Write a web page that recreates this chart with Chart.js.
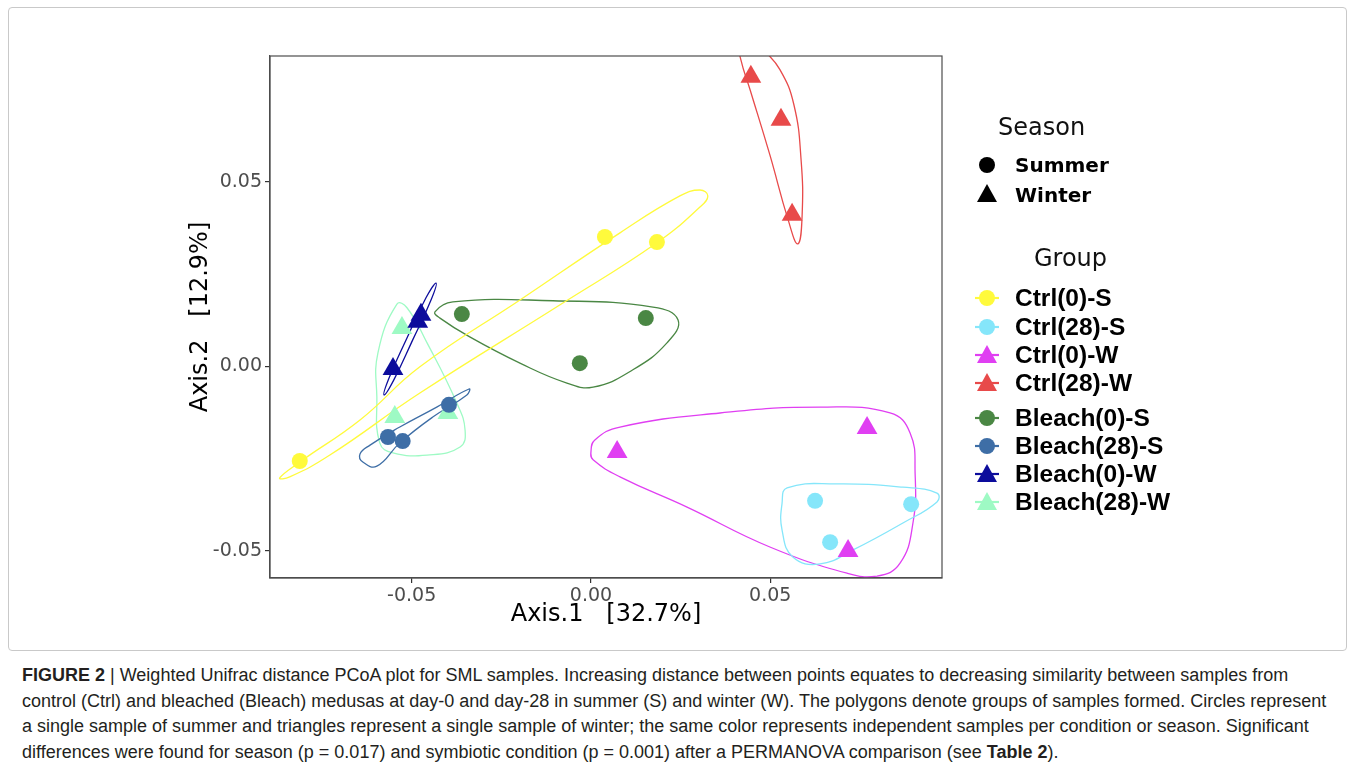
<!DOCTYPE html>
<html>
<head>
<meta charset="utf-8">
<script src="https://cdn.jsdelivr.net/npm/chart.js@4.4.1/dist/chart.umd.min.js"></script>
<style>
  body { margin: 0; background: #fff; width: 1354px; height: 769px; overflow: hidden; position: relative; }
  #frame { position: absolute; left: 8px; top: 7px; width: 1337px; height: 642px; border: 1px solid #c9c9c9; border-radius: 4px; }
  #plot { position: absolute; left: 0; top: 0; }
  .ltitle { position: absolute; font-family: "DejaVu Sans", sans-serif; font-size: 24px; line-height: 28px; color: #111; }
  .season { position: absolute; font-family: "DejaVu Sans", sans-serif; font-weight: bold; font-size: 20px; line-height: 24px; color: #000; }
  .grp { position: absolute; font-family: "Liberation Sans", Arial, sans-serif; font-weight: bold; font-size: 24.5px; line-height: 28px; color: #000; }
  .key { position: absolute; }
  #caption { position: absolute; left: 22px; top: 663px; font-family: "Liberation Sans", Arial, sans-serif; font-size: 18px; line-height: 25.5px; color: #231f20; white-space: nowrap; }
</style>
</head>
<body>
<div id="frame"></div>
<canvas id="plot" width="1354" height="650"></canvas>
<div id="legend"></div>
<div id="caption">
  <b>FIGURE 2</b> | Weighted Unifrac distance PCoA plot for SML samples. Increasing distance between points equates to decreasing similarity between samples from<br>
  control (Ctrl) and bleached (Bleach) medusas at day-0 and day-28 in summer (S) and winter (W). The polygons denote groups of samples formed. Circles represent<br>
  a single sample of summer and triangles represent a single sample of winter; the same color represents independent samples per condition or season. Significant<br>
  differences were found for season (p = 0.017) and symbiotic condition (p = 0.001) after a PERMANOVA comparison (see <b>Table 2</b>).
</div>
<script>
// groups and styling
const groups = ['Ctrl(0)-S', 'Ctrl(28)-S', 'Ctrl(0)-W', 'Ctrl(28)-W', 'Bleach(0)-S', 'Bleach(28)-S', 'Bleach(0)-W', 'Bleach(28)-W'];
const groupColors = ['#FFFA3C', '#85E6FA', '#E03FF2', '#E84A4A', '#4A8744', '#3E6EA6', '#0C0C9C', '#9EFAC4'];
const groupShapes = ['circle', 'circle', 'triangle', 'triangle', 'circle', 'circle', 'triangle', 'triangle'];

// sample coordinates [Axis.1, Axis.2]
const ctrl0S = [[-0.0812, -0.0256], [0.0039, 0.0351], [0.0184, 0.0337]];
const ctrl28S = [[0.0625, -0.0364], [0.0667, -0.0476], [0.0893, -0.0373]];
const ctrl0W = [[0.0073, -0.0232], [0.0770, -0.0167], [0.0717, -0.0500]];
const ctrl28W = [[0.0446, 0.0785], [0.0530, 0.0668], [0.0561, 0.0411]];
const bleach0S = [[-0.0360, 0.0142], [-0.0031, 0.0009], [0.0153, 0.0131]];
const bleach28S = [[-0.0566, -0.0191], [-0.0525, -0.0202], [-0.0396, -0.0104]];
const bleach0W = [[-0.0552, -0.0007], [-0.0474, 0.0140], [-0.0483, 0.0121]];
const bleach28W = [[-0.0527, 0.0104], [-0.0547, -0.0137], [-0.0399, -0.0126]];

// outline vertices of the group polygons
const ctrl0S_hull = [[-0.0868, -0.0302], [-0.0812, -0.0259], [-0.0644, -0.0145], [-0.0477, -0.0001], [-0.0198, 0.0180], [0.0081, 0.0362], [0.0248, 0.0462], [0.0304, 0.0478], [0.0326, 0.0462], [0.0304, 0.0432], [0.0184, 0.0335], [-0.0086, 0.0167], [-0.0477, -0.0072], [-0.0728, -0.0240], [-0.0840, -0.0299]];
const ctrl28S_hull = [[0.0547, -0.0329], [0.0686, -0.0318], [0.0870, -0.0327], [0.0965, -0.0343], [0.0965, -0.0367], [0.0870, -0.0424], [0.0731, -0.0497], [0.0639, -0.0535], [0.0563, -0.0516], [0.0533, -0.0443], [0.0533, -0.0370]];
const ctrl0W_hull = [[0.0000, -0.0232], [0.0011, -0.0199], [0.0081, -0.0164], [0.0360, -0.0126], [0.0639, -0.0110], [0.0834, -0.0126], [0.0890, -0.0180], [0.0904, -0.0289], [0.0898, -0.0424], [0.0862, -0.0533], [0.0798, -0.0568], [0.0714, -0.0560], [0.0499, -0.0489], [0.0268, -0.0381], [0.0081, -0.0299], [0.0006, -0.0253]];
const ctrl28W_hull = [[0.0577, 0.0332], [0.0589, 0.0411], [0.0586, 0.0560], [0.0566, 0.0709], [0.0527, 0.0804], [0.0477, 0.0863], [0.0438, 0.0907], [0.0410, 0.0890], [0.0418, 0.0831], [0.0444, 0.0749], [0.0499, 0.0573], [0.0550, 0.0397]];
const bleach0S_hull = [[-0.0435, 0.0148], [-0.0385, 0.0175], [-0.0106, 0.0178], [0.0173, 0.0161], [0.0243, 0.0126], [0.0212, 0.0064], [0.0117, -0.0009], [0.0006, -0.0056], [-0.0067, -0.0045], [-0.0198, 0.0009], [-0.0338, 0.0080], [-0.0421, 0.0131]];
const bleach28S_hull = [[-0.0340, -0.0061], [-0.0346, -0.0077], [-0.0441, -0.0137], [-0.0533, -0.0207], [-0.0597, -0.0270], [-0.0636, -0.0259], [-0.0644, -0.0237], [-0.0616, -0.0213], [-0.0533, -0.0164], [-0.0430, -0.0110]];
const bleach0W_hull = [[-0.0432, 0.0226], [-0.0446, 0.0180], [-0.0497, 0.0072], [-0.0550, -0.0037], [-0.0577, -0.0077], [-0.0563, -0.0031], [-0.0513, 0.0077], [-0.0460, 0.0186]];
const bleach28W_hull = [[-0.0541, 0.0169], [-0.0594, 0.0037], [-0.0597, -0.0083], [-0.0589, -0.0207], [-0.0552, -0.0234], [-0.0457, -0.0240], [-0.0365, -0.0218], [-0.0351, -0.0172], [-0.0374, -0.0099], [-0.0457, 0.0064], [-0.0513, 0.0159]];

const samples = [ctrl0S, ctrl28S, ctrl0W, ctrl28W, bleach0S, bleach28S, bleach0W, bleach28W];
const hulls = [ctrl0S_hull, ctrl28S_hull, ctrl0W_hull, ctrl28W_hull, bleach0S_hull, bleach28S_hull, bleach0W_hull, bleach28W_hull];

// axes
const xLimits = [-0.0895, 0.0979];
const yLimits = [-0.0573, 0.0841];
const xTicks = [-0.05, 0.00, 0.05];
const yTicks = [-0.05, 0.00, 0.05];
const xTitle = 'Axis.1   [32.7%]';
const yTitle = 'Axis.2   [12.9%]';

const datasets = [];
hulls.forEach((h, i) => {
    // wrap around so the closed curve is smooth at the seam; the extra end segments are hidden
    const ring = [h[h.length - 1], ...h, h[0], h[1]];
    const last = ring.length - 1;
    datasets.push({
        label: groups[i] + ' hull',
        data: ring.map(p => ({ x: p[0], y: p[1] })),
        showLine: true,
        borderColor: groupColors[i],
        borderWidth: 1.3,
        pointRadius: 0,
        tension: 0.45,
        fill: false,
        segment: {
            borderColor: ctx => (ctx.p0DataIndex === 0 || ctx.p1DataIndex === last) ? 'rgba(0,0,0,0)' : undefined
        },
        order: 2
    });
});
samples.forEach((s, i) => {
    datasets.push({
        label: groups[i],
        data: s.map(p => ({ x: p[0], y: p[1] })),
        showLine: false,
        pointStyle: groupShapes[i],
        pointRadius: groupShapes[i] === 'triangle' ? 12 : 8,
        backgroundColor: groupColors[i],
        borderColor: groupColors[i],
        borderWidth: 0,
        order: 1
    });
});

// panel box (top and right sides)
const panelBox = {
    id: 'panelBox',
    afterDraw(chart) {
        const a = chart.chartArea, ctx = chart.ctx;
        ctx.save();
        ctx.strokeStyle = '#4d4d4d';
        ctx.lineWidth = 1.2;
        ctx.strokeRect(a.left, a.top, a.right - a.left, a.bottom - a.top);
        ctx.restore();
    }
};

const tickFont = { family: 'DejaVu Sans', size: 19 };
const titleFont = { family: 'DejaVu Sans', size: 24 };

new Chart(document.getElementById('plot'), {
    type: 'scatter',
    data: { datasets: datasets },
    plugins: [panelBox],
    options: {
        responsive: false,
        animation: false,
        events: [],
        layout: { padding: { left: 182, right: 412, top: 56, bottom: 17 } },
        plugins: { legend: { display: false }, tooltip: { enabled: false } },
        scales: {
            x: {
                type: 'linear',
                min: xLimits[0], max: xLimits[1],
                afterBuildTicks: s => { s.ticks = xTicks.map(v => ({ value: v })); },
                afterFit: s => { s.height = 55; },
                ticks: { font: tickFont, color: '#4d4d4d', padding: 2, callback: v => v.toFixed(2) },
                grid: { drawOnChartArea: false, tickLength: 5, color: '#333', lineWidth: 1.2 },
                border: { display: true, color: '#4d4d4d', width: 1.2 },
                title: { display: true, text: xTitle, font: titleFont, color: '#000', padding: { top: 0, bottom: 4 } }
            },
            y: {
                type: 'linear',
                min: yLimits[0], max: yLimits[1],
                afterBuildTicks: s => { s.ticks = yTicks.map(v => ({ value: v })); },
                afterFit: s => { s.width = 88; },
                ticks: { font: tickFont, color: '#4d4d4d', padding: 3, callback: v => v.toFixed(2) },
                grid: { drawOnChartArea: false, tickLength: 5, color: '#333', lineWidth: 1.2 },
                border: { display: true, color: '#4d4d4d', width: 1.2 },
                title: { display: true, text: yTitle, font: titleFont, color: '#000', padding: { top: 4, bottom: 0 } }
            }
        }
    }
});

// legend (HTML)
const legend = document.getElementById('legend');
function keySvg(shape, color, withLine, cx, cy) {
    const svg = document.createElementNS('http://www.w3.org/2000/svg', 'svg');
    svg.setAttribute('width', 30);
    svg.setAttribute('height', 26);
    svg.setAttribute('class', 'key');
    svg.style.left = (cx - 15) + 'px';
    svg.style.top = (cy - 13) + 'px';
    let html = '';
    if (withLine) html += `<line x1="3" y1="13" x2="27" y2="13" stroke="${color}" stroke-width="2.2"/>`;
    if (shape === 'circle') html += `<circle cx="15" cy="13" r="8" fill="${color}"/>`;
    else html += `<polygon points="15,3 25,21 5,21" fill="${color}"/>`;
    svg.innerHTML = html;
    legend.appendChild(svg);
}
function addText(cls, text, left, cy, lh) {
    const d = document.createElement('div');
    d.className = cls;
    d.textContent = text;
    d.style.left = left + 'px';
    d.style.top = (cy - lh / 2) + 'px';
    legend.appendChild(d);
}
addText('ltitle', 'Season', 998, 127, 28);
keySvg('circle', '#000', false, 987, 165);
addText('season', 'Summer', 1015, 165, 24);
keySvg('triangle', '#000', false, 987, 194);
addText('season', 'Winter', 1015, 195, 24);
addText('ltitle', 'Group', 1034, 258, 28);
const groupRows = [298, 327, 355, 383, 418, 446, 474, 502];
groups.forEach((g, i) => {
    keySvg(groupShapes[i], groupColors[i], true, 987, groupRows[i]);
    addText('grp', g, 1015, groupRows[i], 28);
});
</script>
</body>
</html>
